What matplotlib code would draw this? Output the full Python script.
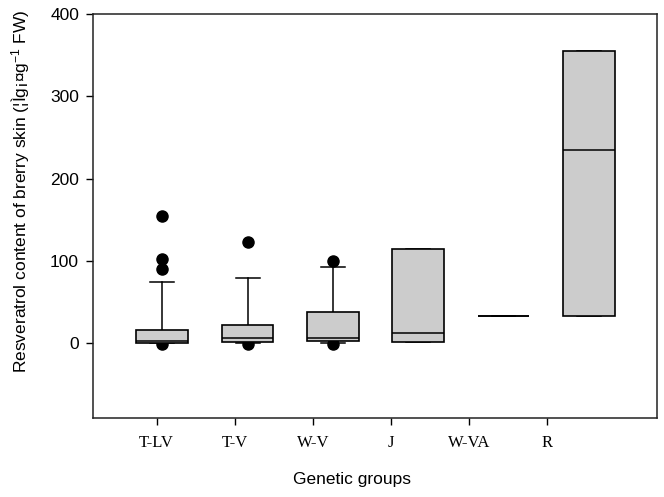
import matplotlib
matplotlib.use("Agg")
import matplotlib.pyplot as plt

plt.rcParams["mathtext.fontset"] = "custom"
plt.rcParams["mathtext.rm"] = "Liberation Sans"
plt.rcParams["mathtext.it"] = "Liberation Sans"
plt.rcParams["mathtext.default"] = "rm"

groups = ["T-LV", "T-V", "W-V", "J", "W-VA", "R"]
q1 = [0.8, 1.2, 2.4, 1.2, 33.1, 32.7]
med = [3.0, 6.8, 6.8, 12.1, 33.1, 235.2]
q3 = [15.8, 21.8, 38.3, 114.7, 33.1, 355.5]
whis_lo = [0.3, 0.5, 1.0, 1.2, 33.1, 32.7]
whis_hi = [74.7, 79.5, 93.3, 114.7, 33.1, 355.5]
outliers = [[154.3, 102.0, 90.4, -0.5], [122.8, -0.5], [100.1, -0.5], [], [], []]

fig = plt.figure(figsize=(6.64, 4.97), dpi=100)
ax = fig.add_axes([0.140, 0.159, 0.8495, 0.813])

stats = []
for i, g in enumerate(groups):
    stats.append(dict(label=g, q1=q1[i], med=med[i], q3=q3[i],
                      whislo=whis_lo[i], whishi=whis_hi[i], fliers=outliers[i]))

positions = list(range(1, len(groups) + 1))
ax.bxp(stats, positions=positions, widths=0.606, patch_artist=True,
       showfliers=True, capwidths=0.28,
       boxprops=dict(facecolor="#cccccc", edgecolor="black", linewidth=1.2, zorder=3),
       medianprops=dict(color="black", linewidth=1.1, zorder=4),
       whiskerprops=dict(color="black", linewidth=1.1, zorder=2),
       capprops=dict(color="black", linewidth=1.1, zorder=2),
       flierprops=dict(marker="o", markerfacecolor="black", markeredgecolor="black",
                       markersize=8, linestyle="none", zorder=1))

ax.set_xlim(0.187, 6.80)
ax.set_ylim(-90.5, 400)
ax.set_yticks([0, 100, 200, 300, 400])

tick_start = 0.934
tick_step = 0.9155
ax.set_xticks([tick_start + tick_step * i for i in range(len(groups))])
ax.set_xticklabels(groups, fontfamily="Liberation Serif", fontsize=12)
for lab in ax.get_yticklabels():
    lab.set_fontfamily("Liberation Sans")
    lab.set_fontsize(12.5)

ax.tick_params(axis="x", direction="out", length=5, width=1, pad=7, top=False)
ax.tick_params(axis="y", direction="out", length=5, width=1, pad=5, right=False)
for sp in ax.spines.values():
    sp.set_linewidth(1.1)
    sp.set_color("#222222")

ax.set_xlabel("Genetic groups", fontfamily="Liberation Sans", fontsize=12.5)
ax.xaxis.set_label_coords(0.459, -0.134)
ax.set_ylabel("Resveratrol content of brerry skin (¦Ìg¡¤g$^{-1}$ FW)",
              fontfamily="Liberation Sans", fontsize=12.5)
ax.yaxis.set_label_coords(-0.108, 0.562)

fig.savefig("out.png", dpi=100)
